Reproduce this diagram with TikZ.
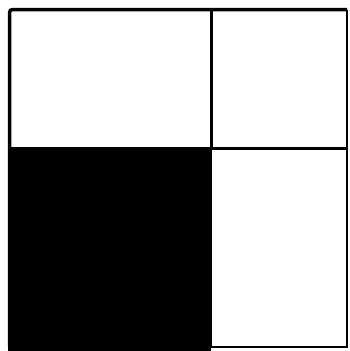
\documentclass[tikz,border=0pt]{standalone}
\begin{document}
\begin{tikzpicture}[x=1pt,y=-1pt,
  frame/.style={draw=black,line width=3.5pt},
  divider/.style={draw=black,line width=3pt}]
\useasboundingbox (0,0) rectangle (350,351);
% black lower-left quadrant
\fill[black] (7.5,148) rectangle (211,351);
% outer frame
\draw[frame,rounded corners=3pt] (9.5,346.5) -- (9.5,9.5) -- (347,9.5);
\draw[draw=black,line width=2pt] (347,9.5) -- (347,346.5) -- (211,346.5);
% dividers
\coordinate (vt) at (211,9.5);
\coordinate (vb) at (211,148);
\coordinate (hl) at (9.5,148);
\coordinate (hr) at (347,148);
\draw[divider] (vt) -- (vb);
\draw[divider] (hl) -- (hr);
\draw[draw=black,line width=1pt] (211,148) -- (211,346.5);
\end{tikzpicture}
\end{document}
